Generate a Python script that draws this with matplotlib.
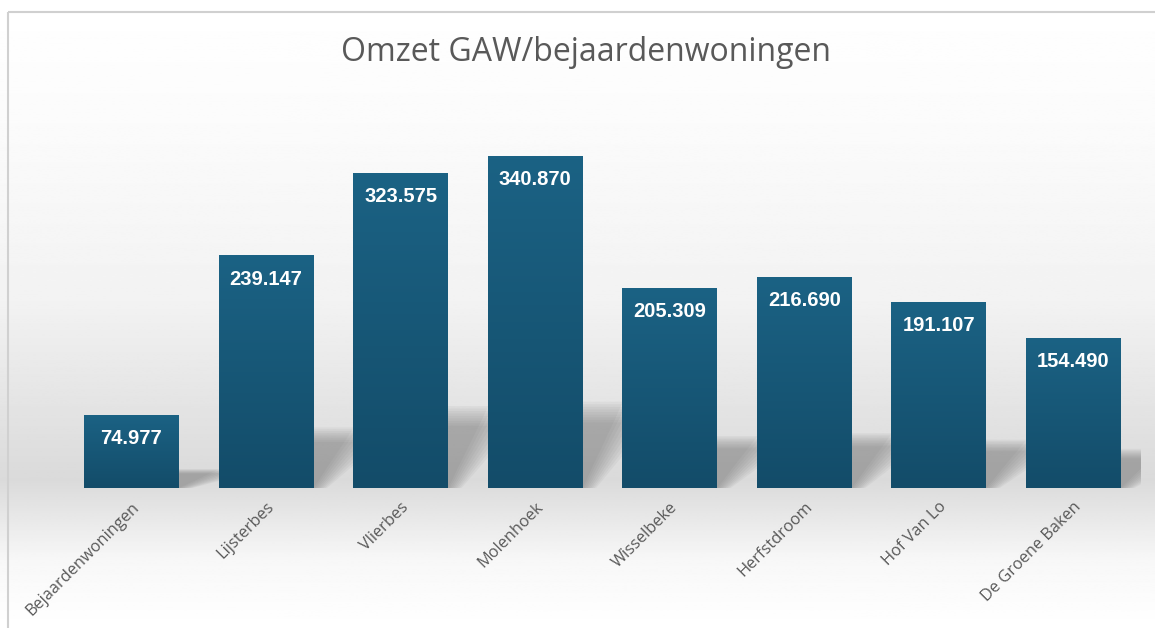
import numpy as np
import matplotlib
matplotlib.use("Agg")
import matplotlib.pyplot as plt
from matplotlib.colors import LinearSegmentedColormap
from matplotlib.patches import Polygon, Rectangle

# data
categories = ["Bejaardenwoningen", "Lijsterbes", "Vlierbes", "Molenhoek",
              "Wisselbeke", "Herfstdroom", "Hof Van Lo", "De Groene Baken"]
omzet = [74977, 239147, 323575, 340870, 205309, 216690, 191107, 154490]
title = "Omzet GAW/bejaardenwoningen"

plt.rcParams["font.family"] = ["Open Sans", "DejaVu Sans"]

fig = plt.figure(figsize=(11.55, 6.28), dpi=100)

# background gradient (white -> light grey near baseline -> white)
bg = fig.add_axes([0, 0, 1, 1], zorder=0)
ys = np.linspace(0, 628, 400)
stops_y = [0, 120, 300, 480, 560, 628]
stops_v = [1.0, 0.985, 0.95, 0.855, 0.97, 1.0]
shade = np.interp(ys, stops_y, stops_v)
bg.imshow(np.repeat(shade[:, None], 2, axis=1), cmap="gray", vmin=0, vmax=1,
          aspect="auto", extent=[0, 1155, 628, 0])
bg.add_patch(Rectangle((7.5, 11.5), 1160, 630, fill=False, edgecolor="#d0d0d0", lw=1.5))
bg.set_xlim(0, 1155)
bg.set_ylim(628, 0)
bg.axis("off")

ax = fig.add_axes([0.0556, 0.2229, 0.932, 0.5427], zorder=1)
ax.patch.set_alpha(0)
x = np.arange(len(categories))
width = 0.706
bars = ax.bar(x, omzet, width=width, color="#17587a", zorder=3)

# soft shadows behind bars
for xi, v in zip(x, omzet):
    r = xi + width / 2
    hs = v * 0.26
    for k in range(9):
        grow = k * 0.025
        poly = Polygon([(r - 0.2, 0), (r + grow * 0.5, 0),
                        (r + 0.3 + grow, hs * (1 - k * 0.03)),
                        (r - 0.1, hs * (1 - k * 0.03))],
                       closed=True, facecolor="#6a6a6a", alpha=0.065,
                       edgecolor="none", zorder=2)
        ax.add_patch(poly)

# bar gradients
cmap = LinearSegmentedColormap.from_list("bar", ["#134c69", "#1b6284"])
for b in bars:
    bx, by = b.get_x(), b.get_y()
    bw, bh = b.get_width(), b.get_height()
    im = ax.imshow(np.linspace(0, 1, 100)[:, None], cmap=cmap, aspect="auto",
                   extent=[bx, bx + bw, by, by + bh], origin="lower", zorder=3)
    im.set_clip_path(b)
ax.set_aspect("auto")
ax.set_xlim(-0.5, len(categories) - 0.5)
ax.set_ylim(0, 350000)

for xi, v in zip(x, omzet):
    label = f"{v:,}".replace(",", ".")
    ax.text(xi, v - 24500, label, ha="center", va="center", color="white",
            fontsize=14.5, fontweight="bold", zorder=4,
            family=["Liberation Sans", "DejaVu Sans"])

ax.set_xticks(x)
ax.set_xticklabels(categories, rotation=45, ha="right", va="top",
                   rotation_mode="anchor", color="#595959", fontsize=11.8)
ax.tick_params(axis="x", length=0, pad=8)
ax.set_yticks([])
for s in ax.spines.values():
    s.set_visible(False)

fig.text(0.507, 0.917, title, ha="center", va="center", fontsize=23,
         color="#595959")

fig.savefig("out.png", dpi=100)
